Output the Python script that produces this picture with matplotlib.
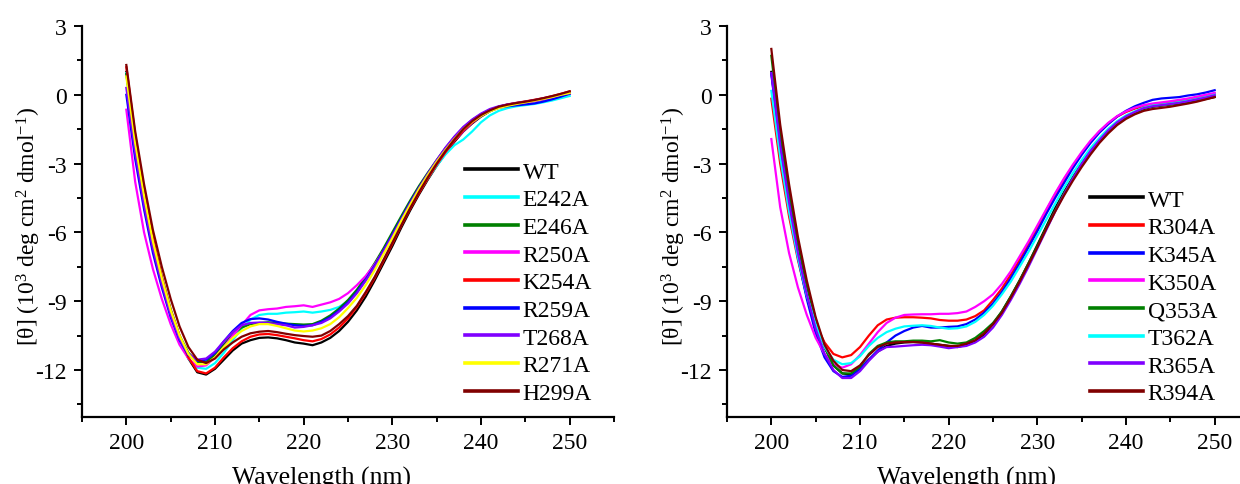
import numpy as np
import matplotlib
matplotlib.use('Agg')
import matplotlib.pyplot as plt
from matplotlib.ticker import MultipleLocator

plt.rcParams['font.family'] = ['Liberation Serif', 'DejaVu Serif']
plt.rcParams['mathtext.fontset'] = 'custom'
plt.rcParams['mathtext.rm'] = 'Liberation Serif'
plt.rcParams['mathtext.it'] = 'Liberation Serif:italic'
plt.rcParams['axes.unicode_minus'] = False

# wavelength grid (nm), 1 nm steps
WAVELENGTH = np.arange(200, 251, 1)

# ---------------- left panel: mean residue ellipticity (10^3 deg cm2 dmol-1)
LEFT_LABELS = ['WT', 'E242A', 'E246A', 'R250A', 'K254A', 'R259A', 'T268A', 'R271A', 'H299A']
LEFT_COLORS = ['black', 'cyan', 'green', 'magenta', 'red', 'blue', '#8000ff', 'yellow', '#800000']

L_WT = [1.0, -1.9, -4.3, -6.4, -8.1, -9.5, -10.6, -11.5, -12.1, -12.2, -11.95,
        -11.55, -11.15, -10.85, -10.7, -10.6, -10.58, -10.62, -10.7, -10.8, -10.85,
        -10.92, -10.8, -10.6, -10.3, -9.9, -9.4, -8.8, -8.1, -7.35, -6.6,
        -5.8, -5.05, -4.35, -3.7, -3.1, -2.55, -2.05, -1.6, -1.25, -0.95,
        -0.72, -0.55, -0.45, -0.38, -0.33, -0.27, -0.2, -0.12, -0.04, 0.05]
L_E242A = [0.95, -2.0, -4.4, -6.5, -8.2, -9.6, -10.7, -11.5, -11.9, -11.95, -11.7,
           -11.25, -10.7, -10.2, -9.8, -9.6, -9.55, -9.55, -9.5, -9.48, -9.45,
           -9.5, -9.45, -9.38, -9.25, -9.0, -8.6, -8.1, -7.5, -6.85, -6.2,
           -5.55, -4.9, -4.25, -3.65, -3.1, -2.6, -2.2, -1.95, -1.6, -1.2,
           -0.9, -0.7, -0.58, -0.5, -0.45, -0.4, -0.33, -0.25, -0.15, -0.05]
L_E246A = [0.9, -2.0, -4.3, -6.3, -7.95, -9.35, -10.5, -11.25, -11.65, -11.65, -11.35,
           -10.9, -10.45, -10.15, -10.0, -9.95, -9.92, -9.95, -9.98, -10.0, -10.02,
           -10.0, -9.85, -9.62, -9.32, -8.95, -8.5, -7.95, -7.35, -6.7, -6.0,
           -5.3, -4.62, -3.98, -3.4, -2.85, -2.32, -1.85, -1.44, -1.1, -0.85,
           -0.65, -0.52, -0.43, -0.37, -0.31, -0.25, -0.17, -0.09, 0.0, 0.08]
L_R250A = [-0.65, -3.8, -6.0, -7.6, -8.9, -10.0, -10.9, -11.5, -11.85, -11.8, -11.45,
           -11.0, -10.5, -10.05, -9.6, -9.4, -9.35, -9.32, -9.25, -9.22, -9.18,
           -9.25, -9.15, -9.05, -8.9, -8.65, -8.3, -7.9, -7.4, -6.8, -6.15,
           -5.5, -4.85, -4.2, -3.6, -3.02, -2.48, -2.0, -1.58, -1.22, -0.92,
           -0.7, -0.55, -0.46, -0.4, -0.34, -0.28, -0.2, -0.12, -0.03, 0.05]
L_K254A = [1.2, -1.75, -4.15, -6.25, -7.95, -9.4, -10.5, -11.45, -12.05, -12.15, -11.9,
           -11.45, -11.05, -10.75, -10.55, -10.45, -10.43, -10.48, -10.55, -10.62, -10.7,
           -10.75, -10.65, -10.45, -10.15, -9.75, -9.25, -8.65, -8.0, -7.25, -6.5,
           -5.72, -4.98, -4.3, -3.65, -3.05, -2.5, -2.0, -1.55, -1.2, -0.9,
           -0.68, -0.52, -0.42, -0.35, -0.29, -0.22, -0.15, -0.06, 0.04, 0.15]
L_R259A = [0.0, -2.8, -5.0, -6.9, -8.4, -9.7, -10.7, -11.35, -11.6, -11.55, -11.25,
           -10.75, -10.3, -9.95, -9.78, -9.75, -9.8, -9.9, -9.98, -10.05, -10.08,
           -10.05, -9.9, -9.7, -9.4, -9.05, -8.6, -8.05, -7.45, -6.8, -6.1,
           -5.4, -4.7, -4.05, -3.45, -2.88, -2.35, -1.88, -1.46, -1.12, -0.88,
           -0.7, -0.57, -0.5, -0.46, -0.42, -0.38, -0.3, -0.2, -0.08, 0.05]
L_T268A = [0.3, -2.5, -4.8, -6.7, -8.25, -9.6, -10.65, -11.3, -11.55, -11.5, -11.2,
           -10.75, -10.35, -10.05, -9.95, -9.93, -9.95, -10.0, -10.05, -10.15, -10.12,
           -10.05, -9.95, -9.75, -9.45, -9.1, -8.65, -8.1, -7.5, -6.85, -6.15,
           -5.45, -4.75, -4.08, -3.45, -2.85, -2.3, -1.82, -1.4, -1.08, -0.82,
           -0.62, -0.5, -0.42, -0.36, -0.3, -0.24, -0.16, -0.08, 0.0, 0.08]
L_R271A = [0.8, -2.1, -4.4, -6.4, -8.0, -9.4, -10.5, -11.3, -11.75, -11.75, -11.45,
           -11.0, -10.6, -10.3, -10.1, -10.0, -10.0, -10.08, -10.18, -10.28, -10.32,
           -10.28, -10.18, -10.0, -9.7, -9.3, -8.85, -8.3, -7.65, -6.95, -6.25,
           -5.5, -4.8, -4.12, -3.5, -2.92, -2.4, -1.92, -1.5, -1.18, -0.92,
           -0.72, -0.58, -0.48, -0.4, -0.33, -0.26, -0.18, -0.1, 0.0, 0.08]
L_H299A = [1.3, -1.6, -3.9, -5.9, -7.5, -8.9, -10.1, -11.0, -11.55, -11.7, -11.5,
           -11.1, -10.8, -10.55, -10.4, -10.33, -10.3, -10.35, -10.42, -10.48, -10.52,
           -10.55, -10.5, -10.3, -10.0, -9.65, -9.2, -8.6, -7.95, -7.2, -6.45,
           -5.7, -4.95, -4.25, -3.6, -3.0, -2.45, -1.95, -1.5, -1.15, -0.88,
           -0.68, -0.52, -0.43, -0.36, -0.3, -0.23, -0.15, -0.06, 0.04, 0.15]

# ---------------- right panel
RIGHT_LABELS = ['WT', 'R304A', 'K345A', 'K350A', 'Q353A', 'T362A', 'R365A', 'R394A']
RIGHT_COLORS = ['black', 'red', 'blue', 'magenta', 'green', 'cyan', '#8000ff', '#800000']

R_WT = [1.0, -2.0, -4.4, -6.5, -8.3, -9.8, -11.0, -11.8, -12.15, -12.2, -11.95,
        -11.55, -11.2, -10.95, -10.85, -10.8, -10.78, -10.8, -10.85, -10.9, -10.95,
        -11.0, -10.9, -10.75, -10.45, -10.0, -9.45, -8.8, -8.1, -7.35, -6.55,
        -5.75, -4.95, -4.25, -3.6, -3.0, -2.45, -1.98, -1.58, -1.25, -0.98,
        -0.78, -0.62, -0.52, -0.47, -0.42, -0.38, -0.32, -0.25, -0.18, -0.1]
R_R304A = [-0.17, -3.0, -5.3, -7.2, -8.8, -10.0, -10.8, -11.3, -11.45, -11.35, -11.0,
           -10.5, -10.05, -9.8, -9.72, -9.7, -9.7, -9.72, -9.75, -9.82, -9.85,
           -9.85, -9.8, -9.65, -9.4, -8.95, -8.45, -7.85, -7.2, -6.5, -5.8,
           -5.05, -4.35, -3.7, -3.1, -2.55, -2.05, -1.6, -1.25, -0.95, -0.75,
           -0.6, -0.5, -0.42, -0.38, -0.33, -0.28, -0.2, -0.12, -0.03, 0.05]
R_K345A = [0.9, -2.3, -4.9, -7.1, -8.9, -10.4, -11.45, -12.05, -12.3, -12.25, -11.95,
           -11.55, -11.15, -10.8, -10.5, -10.3, -10.15, -10.08, -10.15, -10.15, -10.12,
           -10.1, -10.0, -9.8, -9.5, -9.1, -8.6, -8.0, -7.35, -6.65, -5.95,
           -5.2, -4.5, -3.85, -3.2, -2.62, -2.1, -1.65, -1.28, -0.95, -0.7,
           -0.5, -0.35, -0.22, -0.16, -0.13, -0.1, -0.03, 0.02, 0.1, 0.2]
R_K350A = [-1.93, -4.9, -6.9, -8.4, -9.6, -10.6, -11.3, -11.75, -11.9, -11.75, -11.35,
           -10.85, -10.35, -9.95, -9.72, -9.6, -9.58, -9.57, -9.57, -9.55, -9.55,
           -9.52, -9.45, -9.25, -9.0, -8.7, -8.25, -7.7, -7.05, -6.4, -5.7,
           -5.0, -4.3, -3.65, -3.05, -2.5, -2.0, -1.58, -1.22, -0.93, -0.72,
           -0.56, -0.45, -0.38, -0.33, -0.28, -0.22, -0.16, -0.08, 0.0, 0.08]
R_Q353A = [1.7, -1.6, -4.2, -6.4, -8.3, -9.8, -11.0, -11.8, -12.15, -12.15, -11.85,
           -11.3, -10.95, -10.8, -10.75, -10.75, -10.72, -10.72, -10.75, -10.7, -10.8,
           -10.85, -10.8, -10.6, -10.3, -9.95, -9.45, -8.8, -8.1, -7.35, -6.6,
           -5.8, -5.05, -4.3, -3.62, -3.0, -2.45, -1.98, -1.58, -1.25, -0.98,
           -0.78, -0.6, -0.5, -0.46, -0.42, -0.36, -0.3, -0.22, -0.14, -0.05]
R_T362A = [0.17, -2.7, -5.1, -7.1, -8.75, -10.0, -11.0, -11.55, -11.75, -11.7, -11.4,
           -10.95, -10.6, -10.35, -10.2, -10.1, -10.07, -10.05, -10.08, -10.15, -10.2,
           -10.18, -10.1, -9.9, -9.6, -9.2, -8.7, -8.15, -7.5, -6.85, -6.15,
           -5.45, -4.75, -4.05, -3.42, -2.85, -2.32, -1.88, -1.48, -1.15, -0.9,
           -0.72, -0.56, -0.47, -0.43, -0.38, -0.32, -0.26, -0.18, -0.1, 0.0]
R_R365A = [0.95, -2.2, -4.7, -6.9, -8.7, -10.2, -11.3, -12.0, -12.35, -12.35, -12.05,
           -11.6, -11.2, -11.0, -10.98, -10.95, -10.92, -10.9, -10.92, -10.98, -11.05,
           -11.0, -10.95, -10.8, -10.55, -10.15, -9.6, -8.95, -8.25, -7.5, -6.7,
           -5.9, -5.1, -4.35, -3.65, -3.02, -2.45, -1.98, -1.55, -1.2, -0.94,
           -0.75, -0.58, -0.5, -0.45, -0.4, -0.35, -0.28, -0.2, -0.12, -0.02]
R_R394A = [2.0, -1.3, -3.9, -6.2, -8.1, -9.7, -10.9, -11.6, -12.0, -12.05, -11.8,
           -11.35, -11.0, -10.85, -10.8, -10.78, -10.78, -10.8, -10.85, -10.9, -10.95,
           -10.95, -10.85, -10.7, -10.4, -10.0, -9.5, -8.85, -8.15, -7.4, -6.65,
           -5.85, -5.1, -4.4, -3.75, -3.15, -2.6, -2.1, -1.68, -1.32, -1.05,
           -0.85, -0.7, -0.62, -0.57, -0.52, -0.45, -0.38, -0.3, -0.2, -0.1]

LEFT_SERIES = [L_WT, L_E242A, L_E246A, L_R250A, L_K254A, L_R259A, L_T268A, L_R271A, L_H299A]
RIGHT_SERIES = [R_WT, R_R304A, R_K345A, R_K350A, R_Q353A, R_T362A, R_R365A, R_R394A]

YLABEL = '[θ] (10$^{3}$ deg cm$^{2}$ dmol$^{-1}$)'


def draw_panel(fig, ax, series, labels, colors, legend_xy):
    for vals, lab, col in zip(series, labels, colors):
        ax.plot(WAVELENGTH, vals, color=col, lw=1.6, label=lab)

    ax.set_xlim(195, 255)
    ax.set_ylim(-14.05, 3)
    ax.xaxis.set_major_locator(MultipleLocator(10))
    ax.xaxis.set_minor_locator(MultipleLocator(5))
    ax.yaxis.set_major_locator(MultipleLocator(3))
    ax.yaxis.set_minor_locator(MultipleLocator(1.5))
    ax.spines['top'].set_visible(False)
    ax.spines['right'].set_visible(False)
    for s in ('left', 'bottom'):
        ax.spines[s].set_linewidth(1.6)
    ax.tick_params(which='major', length=6, width=1.4, labelsize=17, pad=5)
    ax.tick_params(which='minor', length=3.5, width=1.4)
    ax.set_xlabel('Wavelength (nm)', fontsize=18.5)
    ax.xaxis.set_label_coords(0.45, -0.126)
    ax.set_ylabel(YLABEL, fontsize=17)
    ax.yaxis.set_label_coords(-0.074, 0.49)

    leg = ax.legend(loc='upper left', bbox_to_anchor=legend_xy,
                    bbox_transform=fig.transFigure, frameon=False,
                    fontsize=17, handlelength=2.25, handletextpad=0.2,
                    labelspacing=0.26, borderpad=0, borderaxespad=0)
    for h in leg.legend_handles:
        h.set_linewidth(2.6)


fig = plt.figure(figsize=(12.4, 4.85), dpi=100)
ax1 = fig.add_axes([82 / 1240, 67 / 485, 532 / 1240, 391 / 485])
ax2 = fig.add_axes([727 / 1240, 67 / 485, 532 / 1240, 391 / 485])

draw_panel(fig, ax1, LEFT_SERIES, LEFT_LABELS, LEFT_COLORS, (465 / 1240, 1 - 162 / 485))
draw_panel(fig, ax2, RIGHT_SERIES, RIGHT_LABELS, RIGHT_COLORS, (1090 / 1240, 1 - 190 / 485))

fig.savefig('out.png', dpi=100)
